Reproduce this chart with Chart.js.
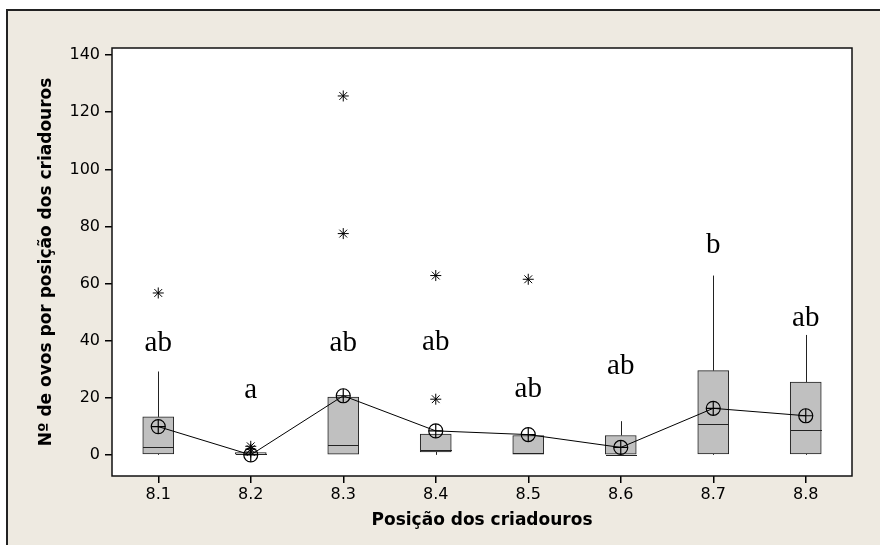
<!DOCTYPE html>
<html>
<head>
<meta charset="utf-8">
<script src="https://cdn.jsdelivr.net/npm/chart.js@4"></script>
<style>
  body { margin: 0; background: #fff; }
  #frame {
    position: absolute; left: 6px; top: 9px; right: 0; bottom: 0;
    background: #eeeae1;
    border-top: 2px solid #222; border-left: 2px solid #222;
  }
  #chartOvos { position: absolute; left: 0; top: 0; }
</style>
</head>
<body>
<div id="frame"></div>
<canvas id="chartOvos" width="880" height="545"></canvas>
<script>
// posições dos criadouros
const posicoes = ['8.1', '8.2', '8.3', '8.4', '8.5', '8.6', '8.7', '8.8'];

// resumo dos boxplots
const q1 = [0.3, 0, 0, 1, 0, 0, 0.3, 0.3];
const mediana = [2.8, 0.3, 3.4, 1.8, 0.8, 0, 10.8, 8.7];
const q3 = [13.3, 0.8, 20.2, 7.3, 6.8, 6.8, 29.5, 25.5];
const bigodeSup = [29.2, 0.8, 20.2, 7.3, 6.8, 11.8, 62.8, 42];
const bigodeInf = [0, 0, 0, 0, 0, 0, 0, 0];
const medias = [9.9, 0, 20.7, 8.4, 7.1, 2.6, 16.3, 13.7];

// valores atípicos (*)
const outlierPos = ['8.1', '8.2', '8.2', '8.2', '8.3', '8.3', '8.4', '8.4', '8.5'];
const outlierVal = [56.7, 1, 2, 3, 77.5, 125.7, 19.5, 62.8, 61.5];

// letras do teste de comparação
const letras = ['ab', 'a', 'ab', 'ab', 'ab', 'ab', 'b', 'ab'];
const letrasY = [36.5, 19.9, 36.5, 36.8, 20.1, 28.3, 70.6, 45.3];

const yTicks = [0, 20, 40, 60, 80, 100, 120, 140];

const fonte = 'DejaVu Sans';

const boxPlugin = {
  id: 'boxExtras',
  beforeDraw(chart) {
    const a = chart.chartArea;
    const c = chart.ctx;
    c.save();
    c.fillStyle = '#fff';
    c.fillRect(a.left, a.top, a.right - a.left, a.bottom - a.top);
    c.restore();
  },
  afterDatasetDraw(chart, args) {
    if (args.index !== 0) return;
    const c = chart.ctx;
    const x = chart.scales.x, y = chart.scales.y;
    const meta = chart.getDatasetMeta(0);
    c.save();
    c.strokeStyle = '#222';
    c.lineWidth = 1;
    posicoes.forEach((p, i) => {
      const cx = Math.round(x.getPixelForValue(i)) + 0.5;
      const half = meta.data[i].width / 2;
      c.beginPath();
      c.moveTo(cx, y.getPixelForValue(q3[i]));
      c.lineTo(cx, y.getPixelForValue(bigodeSup[i]));
      c.moveTo(cx, y.getPixelForValue(q1[i]));
      c.lineTo(cx, y.getPixelForValue(bigodeInf[i]));
      const ym = Math.round(y.getPixelForValue(mediana[i])) + 0.5;
      c.moveTo(cx - half, ym);
      c.lineTo(cx + half, ym);
      c.stroke();
    });
    c.restore();
  },
  afterDraw(chart) {
    const a = chart.chartArea;
    const c = chart.ctx;
    const x = chart.scales.x, y = chart.scales.y;
    c.save();
    c.strokeStyle = '#111';
    c.lineWidth = 1.5;
    c.strokeRect(a.left, a.top, a.right - a.left, a.bottom - a.top);
    c.fillStyle = '#000';
    c.font = '29px "Liberation Serif"';
    c.textAlign = 'center';
    c.textBaseline = 'alphabetic';
    letras.forEach((t, i) => {
      c.fillText(t, x.getPixelForValue(i), y.getPixelForValue(letrasY[i]));
    });
    c.restore();
  }
};

new Chart(document.getElementById('chartOvos'), {
  type: 'bar',
  data: {
    labels: posicoes,
    datasets: [{
      label: 'caixa',
      data: q1.map((v, i) => [v, q3[i]]),
      backgroundColor: '#c0c0c0',
      borderColor: '#222',
      borderWidth: 1,
      borderSkipped: false,
      barThickness: 31,
      order: 3
    }, {
      type: 'line',
      label: 'média',
      data: medias,
      borderColor: '#000',
      borderWidth: 1,
      pointStyle: 'circle',
      pointRadius: 7,
      pointBorderWidth: 1.2,
      pointBackgroundColor: 'rgba(0,0,0,0)',
      pointBorderColor: '#000',
      order: 1
    }, {
      type: 'line',
      label: 'média cruz',
      data: medias,
      showLine: false,
      pointStyle: 'cross',
      pointRadius: 7,
      pointBorderWidth: 1.2,
      pointBorderColor: '#000',
      order: 1
    }, {
      type: 'line',
      label: 'outliers',
      data: outlierPos.map((p, i) => ({ x: p, y: outlierVal[i] })),
      showLine: false,
      pointStyle: 'star',
      pointRadius: 5.5,
      pointBorderWidth: 1,
      pointBorderColor: '#000',
      order: 2
    }]
  },
  options: {
    responsive: false,
    animation: false,
    devicePixelRatio: 1,
    layout: { padding: { left: 12, top: 48, right: 28, bottom: 5 } },
    plugins: { legend: { display: false }, tooltip: { enabled: false } },
    scales: {
      x: {
        type: 'category',
        offset: true,
        grid: { offset: false, drawOnChartArea: false, tickLength: 7, color: '#000', lineWidth: 1.5 },
        border: { display: false },
        ticks: { color: '#000', font: { family: fonte, size: 16 }, padding: 2 },
        title: {
          display: true, text: 'Posição dos criadouros', color: '#000',
          font: { family: fonte, size: 17, weight: 'bold' },
          padding: { top: 0, bottom: 9 }
        },
        afterFit(s) { s.height = 64; }
      },
      y: {
        min: -7.4,
        max: 142.5,
        afterBuildTicks(s) { s.ticks = yTicks.map(v => ({ value: v })); },
        grid: { drawOnChartArea: false, tickLength: 7, color: '#000', lineWidth: 1.5 },
        border: { display: false },
        ticks: { color: '#000', font: { family: fonte, size: 16 }, padding: 5 },
        title: {
          display: true, text: 'Nº de ovos por posição dos criadouros', color: '#000',
          font: { family: fonte, size: 17, weight: 'bold' },
          padding: { top: 24, bottom: 0 }
        },
        afterFit(s) { s.width = 100; }
      }
    }
  },
  plugins: [boxPlugin]
});
</script>
</body>
</html>
